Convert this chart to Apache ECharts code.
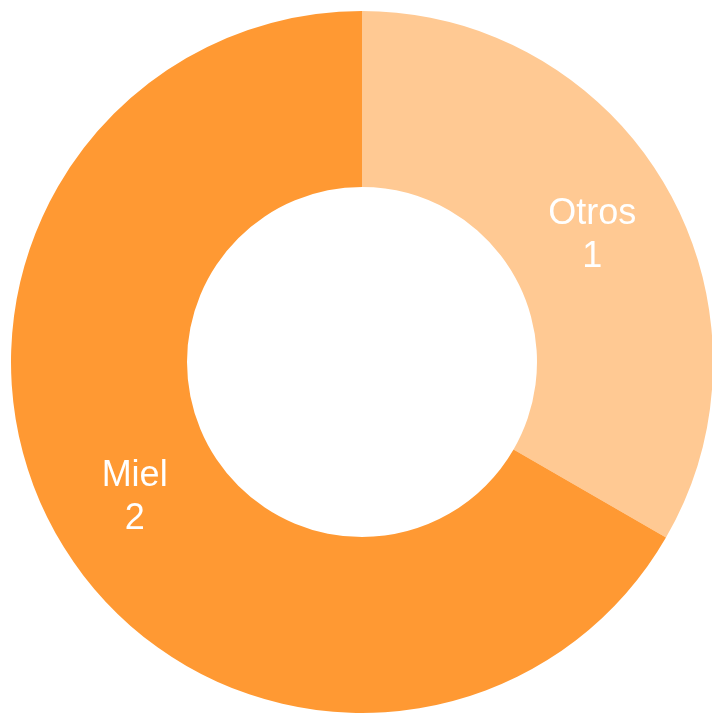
<!DOCTYPE html>
<html>
<head>
<meta charset="utf-8">
<script src="https://cdn.jsdelivr.net/npm/echarts@6/dist/echarts.min.js"></script>
<style>
  html, body { margin: 0; padding: 0; background: #fff; }
  #main { width: 712px; height: 714px; }
</style>
</head>
<body>
<div id="main"></div>
<script>
var categories = ['Otros', 'Miel'];
var values = [1, 2];
var colors = ['#FFC993', '#FF9933'];

var myChart = echarts.init(document.getElementById('main'));

var data = categories.map(function (name, i) {
  return { name: name, value: values[i], itemStyle: { color: colors[i] } };
});

// small nudges so the labels sit where the original put them
var labelShift = [[0, 7], [3, 3]];

var option = {
  animation: false,
  series: [{
    type: 'pie',
    center: [362, 362],
    radius: [175, 351],
    startAngle: 90,
    clockwise: true,
    data: data,
    label: {
      show: true,
      position: 'inside',
      formatter: '{b}\n{c}',
      color: '#fff',
      fontFamily: '"Liberation Sans", Arial, sans-serif',
      fontSize: 36,
      lineHeight: 43
    },
    labelLayout: function (params) {
      var s = labelShift[params.dataIndex] || [0, 0];
      return { dx: s[0], dy: s[1] };
    },
    labelLine: { show: false },
    itemStyle: { borderWidth: 0 },
    emphasis: { disabled: true }
  }]
};
option && myChart.setOption(option);
</script>
</body>
</html>
